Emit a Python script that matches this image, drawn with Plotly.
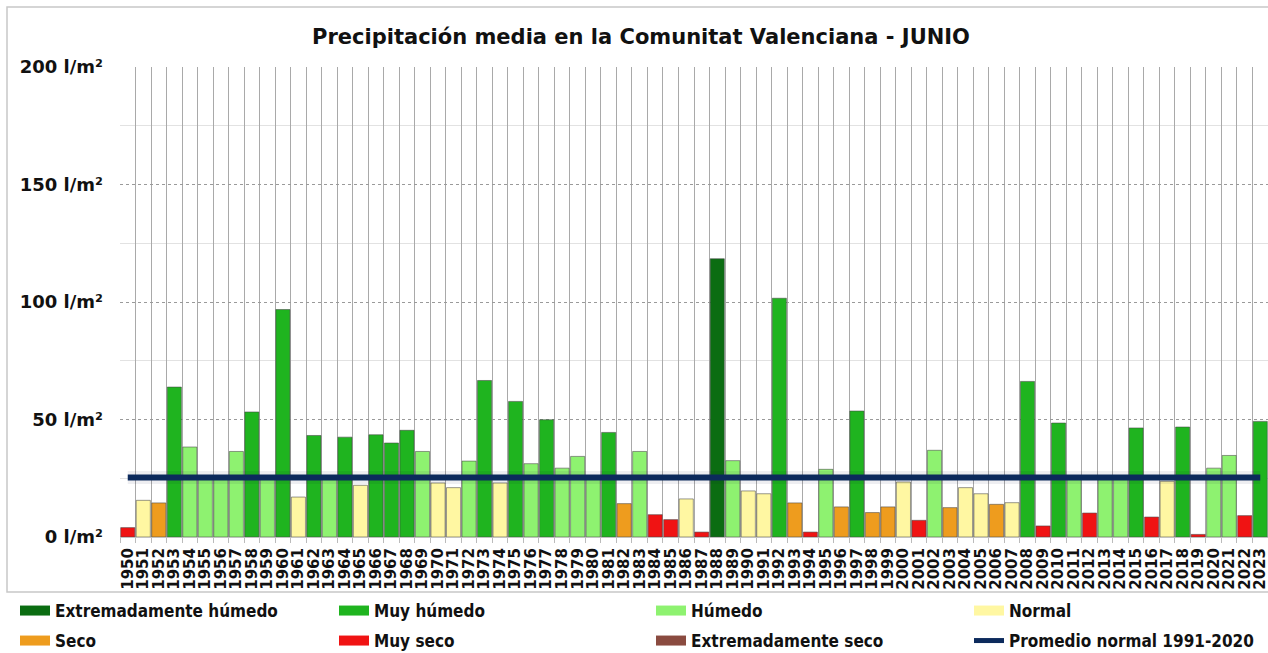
import plotly.graph_objects as go

# ---------------- data ----------------
years = [str(y) for y in range(1950, 2024)]

precip = [
    4.0, 15.6, 14.5, 63.8, 38.3, 26.0, 26.0, 36.4, 53.2, 26.0,   # 1950-1959
    96.8, 17.0, 43.2, 26.0, 42.5, 22.0, 43.5, 40.0, 45.4, 36.4,  # 1960-1969
    23.0, 21.0, 32.3, 66.6, 23.0, 57.7, 31.2, 49.9, 29.3, 34.3,  # 1970-1979
    26.0, 44.5, 14.2, 36.4, 9.5, 7.4, 16.2, 2.1, 118.4, 32.5,    # 1980-1989
    19.6, 18.4, 101.6, 14.5, 2.1, 28.8, 12.8, 53.6, 10.4, 12.8,  # 1990-1999
    23.4, 7.1, 36.9, 12.5, 21.0, 18.4, 13.9, 14.6, 66.2, 4.7,    # 2000-2009
    48.5, 26.0, 10.2, 26.0, 26.0, 46.4, 8.5, 23.7, 46.8, 1.1,    # 2010-2019
    29.3, 34.7, 9.1, 49.2,                                       # 2020-2023
]

clase = [
    "MS", "N", "S", "MH", "H", "H", "H", "H", "MH", "H",
    "MH", "N", "MH", "H", "MH", "N", "MH", "MH", "MH", "H",
    "N", "N", "H", "MH", "N", "MH", "H", "MH", "H", "H",
    "H", "MH", "S", "H", "MS", "MS", "N", "MS", "EH", "H",
    "N", "N", "MH", "S", "MS", "H", "S", "MH", "S", "S",
    "N", "MS", "H", "S", "N", "N", "S", "N", "MH", "MS",
    "MH", "H", "MS", "H", "H", "MH", "MS", "N", "MH", "MS",
    "H", "H", "MS", "MH",
]

promedio_1991_2020 = 25.3

legend_codes = ["EH", "MH", "H", "N", "S", "MS", "ES"]
legend_names = ["Extremadamente húmedo", "Muy húmedo", "Húmedo", "Normal",
                "Seco", "Muy seco", "Extremadamente seco"]
y_ticks = [0, 50, 100, 150, 200]
y_ticktext = ["0 l/m²", "50 l/m²", "100 l/m²", "150 l/m²", "200 l/m²"]
y_minor = [25, 75, 125, 175]
title_text = "Precipitación media en la Comunitat Valenciana - JUNIO"
promedio_name = "Promedio normal 1991-2020"

# ---------------- styles ----------------
colors = {
    "EH": "#0b6d12",
    "MH": "#1fb41f",
    "H": "#8ef270",
    "N": "#fff7a2",
    "S": "#ee9c1e",
    "MS": "#f01313",
    "ES": "#8a4b40",
}
line_color = "#0c2a5c"
W, H = 1268, 653
L, R, T = 120, 0, 67
B = H - 537
plot_w = W - L - R
plot_h = H - T - B

def px_to_paper_x(px):
    return (px - L) / plot_w

def px_to_paper_y(py):
    return (H - B - py) / plot_h

fig = go.Figure()

fig.add_trace(go.Bar(
    x=years, y=precip,
    marker=dict(color=[colors[c] for c in clase],
                line=dict(color="rgba(70,70,70,0.55)", width=1)),
    showlegend=False, hoverinfo="x+y",
))

# soft shadow of the average line
fig.add_trace(go.Scatter(
    x=years, y=[promedio_1991_2020] * len(years), mode="lines",
    line=dict(color="rgba(10,20,50,0.07)", width=13),
    showlegend=False, hoverinfo="skip",
))
fig.add_trace(go.Scatter(
    x=years, y=[promedio_1991_2020] * len(years), mode="lines",
    line=dict(color=line_color, width=6),
    showlegend=False, hoverinfo="y",
))

# legend: one single-item legend per slot (4 columns x 2 rows)
col_text_x = [55, 374, 691, 1009]
row_y = [611, 641]
entries = [(colors[c], n, 10) for c, n in zip(legend_codes, legend_names)]
entries.append((line_color, promedio_name, 5))

legend_font = dict(family="DejaVu Sans Condensed, DejaVu Sans, sans-serif",
                   size=17, color="#111", weight="bold")
legend_layouts = {}
for i, (col, name, lw) in enumerate(entries):
    key = "legend" if i == 0 else f"legend{i + 1}"
    fig.add_trace(go.Scatter(
        x=[None], y=[None], mode="lines", name=name,
        line=dict(color=col, width=lw), legend=key,
    ))
    r, c = divmod(i, 4)
    legend_layouts[key] = dict(
        orientation="h", xanchor="left", yanchor="middle",
        x=px_to_paper_x(col_text_x[c] - 40), y=px_to_paper_y(row_y[r]),
        font=legend_font, bgcolor="rgba(0,0,0,0)", itemwidth=30,
    )

fig.update_layout(
    width=W, height=H, autosize=False,
    margin=dict(l=L, r=R, t=T, b=B, pad=0, autoexpand=False),
    paper_bgcolor="white", plot_bgcolor="white",
    bargap=0.09,
    title=dict(text=title_text, x=641 / W, xanchor="center", y=1 - 37 / H, yanchor="middle",
               font=dict(family="DejaVu Sans, Verdana, sans-serif", size=21, color="#111", weight="bold")),
    xaxis=dict(type="category", range=[-0.5, 73.5], tickson="boundaries",
               tickmode="linear", tick0=0, dtick=1,
               showgrid=True, gridcolor="#a9a9a9", gridwidth=1,
               ticks="outside", ticklen=5, tickcolor="#bbbbbb",
               ticklabelstandoff=4,
               showline=True, linecolor="#c0c0c0", linewidth=1,
               tickangle=-90,
               tickfont=dict(family="DejaVu Sans, Verdana, sans-serif", size=15, color="#111", weight="bold"),
               fixedrange=True),
    yaxis=dict(range=[0, 200], tickmode="array", tickvals=y_ticks, ticktext=y_ticktext,
               showgrid=True, gridcolor="#9a9a9a", griddash="dot", gridwidth=1,
               zeroline=False, ticks="", ticklabelstandoff=16,
               tickfont=dict(family="DejaVu Sans, Verdana, sans-serif", size=18, color="#111", weight="bold"),
               minor=dict(tickmode="array", tickvals=y_minor, showgrid=True,
                          gridcolor="#e2e2e2", gridwidth=1, griddash="solid"),
               fixedrange=True),
    shapes=[dict(type="rect", xref="paper", yref="paper",
                 x0=px_to_paper_x(7), x1=px_to_paper_x(W + 10),
                 y0=px_to_paper_y(592), y1=px_to_paper_y(7),
                 line=dict(color="#c8c8c8", width=1.5), layer="below")],
    showlegend=True,
    **legend_layouts,
)

fig.write_html("out.html", config={"displayModeBar": False},
               post_script="document.body.style.margin='0';")
